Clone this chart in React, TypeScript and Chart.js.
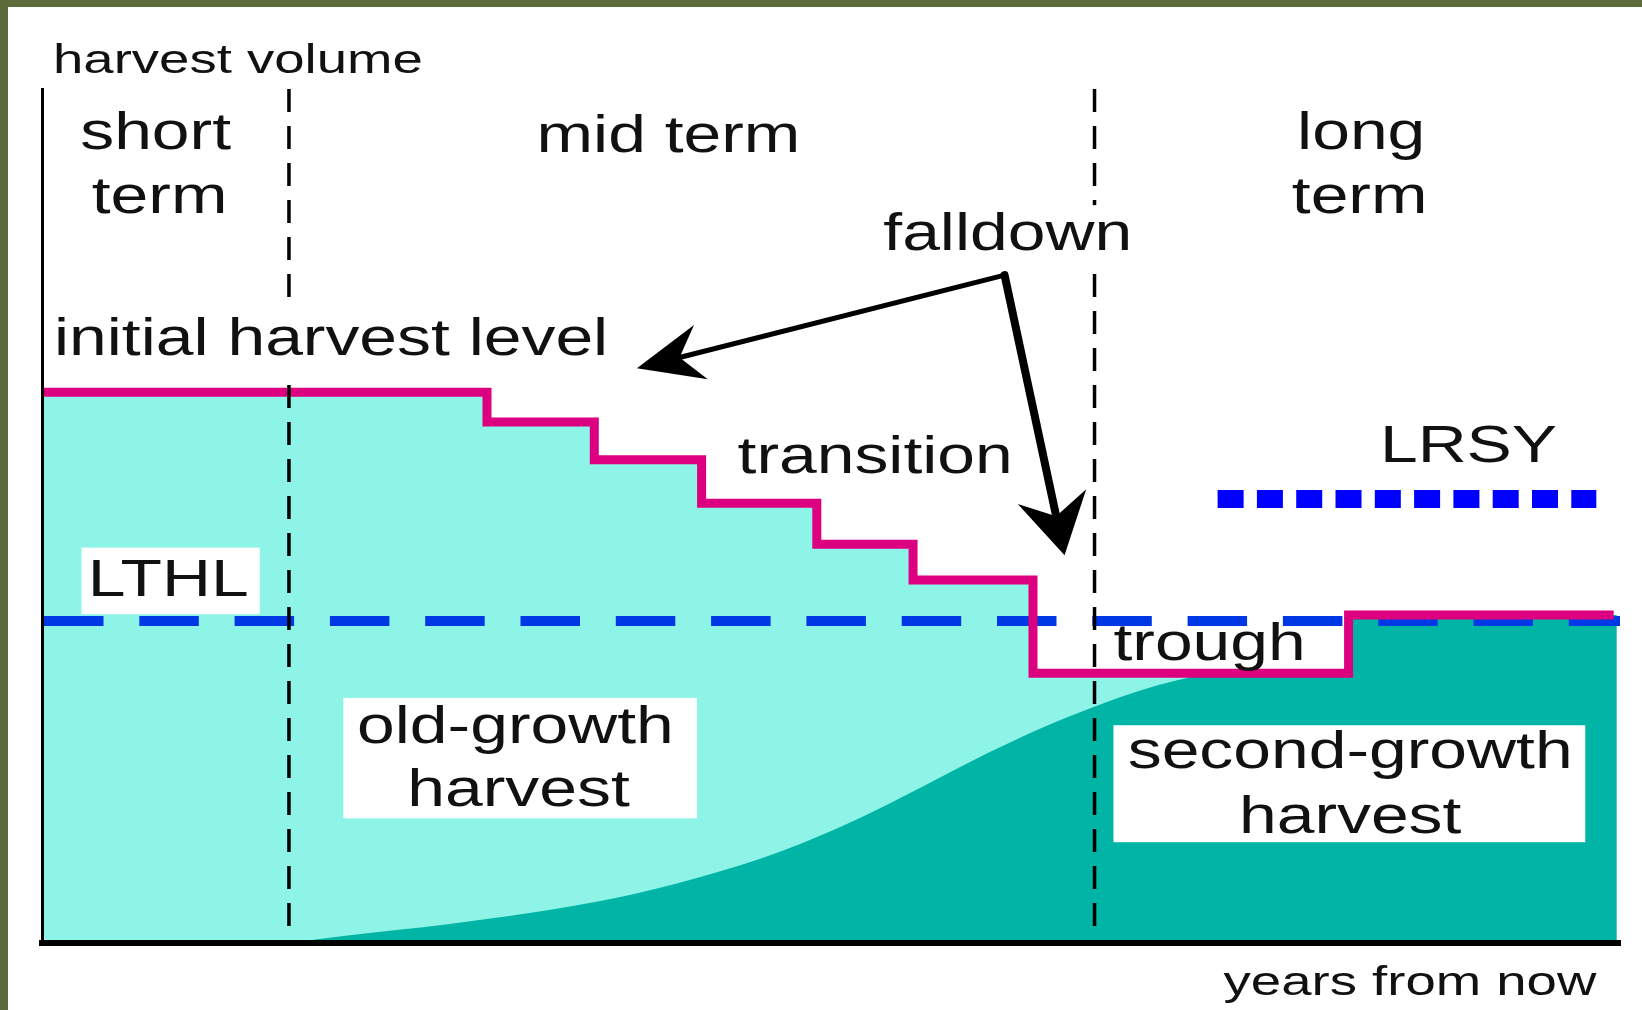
import React, { useEffect, useRef } from "react";
import { Chart, registerables } from "chart.js";

Chart.register(...registerables);

// ---- DATA (x: years from now, 0–100 ; y: harvest volume, 0–100) ----
const harvestStepX = [0, 28.2, 35.0, 41.8, 49.1, 55.2, 62.8, 82.8, 99.6];
const harvestStepY = [64.5, 61.0, 56.6, 51.5, 46.7, 42.5, 31.6, 38.4, 38.4];

const secondGrowthX = [15.65, 19.5, 25.7, 30.9, 36.2, 41.5, 46.8, 51.8, 56.0, 60.0, 63.5, 66.6, 69.5, 72.0, 74.5, 82.8, 82.85, 99.8];
const secondGrowthY = [0, 0.9, 2.2, 3.5, 5.2, 7.6, 10.7, 14.6, 18.5, 22.3, 25.3, 27.6, 29.5, 30.8, 31.6, 31.6, 38.4, 38.4];

const lthlX = [0, 100];
const lthlLevel = 37.7;
const lrsyX = [74.5, 98.5];
const lrsyLevel = 52.0;
const periodBoundaries = [15.65, 66.7];

// ---- ANNOTATIONS (in data units) ----
type Label = { text: string; x: number; y: number; align: CanvasTextAlign; size: number };
const labels: Label[] = [
  { text: "harvest volume", x: 0.7, y: 101.9, align: "left", size: 41 },
  { text: "short", x: 7.2, y: 93.0, align: "center", size: 51 },
  { text: "term", x: 7.45, y: 85.5, align: "center", size: 51 },
  { text: "mid term", x: 39.7, y: 92.6, align: "center", size: 51 },
  { text: "long", x: 83.6, y: 93.0, align: "center", size: 51 },
  { text: "term", x: 83.5, y: 85.5, align: "center", size: 51 },
  { text: "falldown", x: 61.2, y: 81.1, align: "center", size: 51 },
  { text: "initial harvest level", x: 0.76, y: 68.9, align: "left", size: 51 },
  { text: "transition", x: 52.8, y: 55.0, align: "center", size: 51 },
  { text: "LRSY", x: 90.4, y: 56.3, align: "center", size: 51 },
  { text: "LTHL", x: 8.0, y: 40.6, align: "center", size: 51 },
  { text: "trough", x: 67.9, y: 33.1, align: "left", size: 51 },
  { text: "old-growth", x: 30.0, y: 23.4, align: "center", size: 51 },
  { text: "harvest", x: 30.2, y: 16.0, align: "center", size: 51 },
  { text: "second-growth", x: 82.9, y: 20.5, align: "center", size: 51 },
  { text: "harvest", x: 82.9, y: 12.9, align: "center", size: 51 },
  { text: "years from now", x: 98.5, y: -6.1, align: "right", size: 41 },
];

type Box = { x0: number; x1: number; y0: number; y1: number };
const whiteBoxes: Box[] = [
  { x0: 0.5, x1: 36.6, y0: 74.6, y1: 65.8 },
  { x0: 52.8, x1: 69.6, y0: 86.4, y1: 79.2 },
  { x0: 2.5, x1: 13.8, y0: 46.3, y1: 38.5 },
  { x0: 19.1, x1: 41.5, y0: 28.7, y1: 14.6 },
  { x0: 67.9, x1: 97.8, y0: 25.5, y1: 11.8 },
];

const arrowApex = { x: 61.0, y: 78.2 };
const arrowTips = [
  { x: 37.7, y: 67.3, lw: 5, head: 66, half: 28, notch: 44 },
  { x: 64.8, y: 45.4, lw: 8, head: 60, half: 35, notch: 40 },
];

const TEXT_SX = 1.33;
const FONT = '"Liberation Sans", Arial, sans-serif';

const pts = (xs: number[], ys: number[]) => xs.map((x, i) => ({ x, y: ys[i] }));

const annotationPlugin = {
  id: "diagramAnnotations",
  beforeDraw(chart: any) {
    const ctx = chart.ctx as CanvasRenderingContext2D;
    ctx.save();
    ctx.fillStyle = "#ffffff";
    ctx.fillRect(0, 0, chart.width, chart.height);
    ctx.fillStyle = "#5d6a39";
    ctx.fillRect(0, 0, chart.width, 7);
    ctx.fillRect(0, 0, 8, chart.height);
    ctx.restore();
  },
  afterDraw(chart: any) {
    const ctx = chart.ctx as CanvasRenderingContext2D;
    const X = (v: number) => chart.scales.x.getPixelForValue(v);
    const Y = (v: number) => chart.scales.y.getPixelForValue(v);
    ctx.save();
    // white label boxes
    ctx.fillStyle = "#ffffff";
    for (const b of whiteBoxes) {
      const x0 = X(b.x0), x1 = X(b.x1), y0 = Y(b.y0), y1 = Y(b.y1);
      ctx.fillRect(Math.min(x0, x1), Math.min(y0, y1), Math.abs(x1 - x0), Math.abs(y1 - y0));
    }
    // texts
    ctx.fillStyle = "#111111";
    ctx.textBaseline = "alphabetic";
    for (const l of labels) {
      ctx.save();
      ctx.translate(X(l.x), Y(l.y));
      ctx.scale(TEXT_SX, 1);
      ctx.font = `${l.size}px ${FONT}`;
      ctx.textAlign = l.align;
      ctx.fillText(l.text, 0, 0);
      ctx.restore();
    }
    // arrows
    const ax = X(arrowApex.x), ay = Y(arrowApex.y);
    ctx.fillStyle = "#000000";
    ctx.strokeStyle = "#000000";
    ctx.lineCap = "round";
    for (const t of arrowTips) {
      const tx = X(t.x), ty = Y(t.y);
      const dx = tx - ax, dy = ty - ay;
      const L = Math.hypot(dx, dy);
      const ux = dx / L, uy = dy / L, px = -uy, py = ux;
      ctx.lineWidth = t.lw;
      ctx.beginPath();
      ctx.moveTo(ax, ay);
      ctx.lineTo(tx - ux * t.notch, ty - uy * t.notch);
      ctx.stroke();
      ctx.beginPath();
      ctx.moveTo(tx, ty);
      ctx.lineTo(tx - ux * t.head + px * t.half, ty - uy * t.head + py * t.half);
      ctx.lineTo(tx - ux * t.notch, ty - uy * t.notch);
      ctx.lineTo(tx - ux * t.head - px * t.half, ty - uy * t.head - py * t.half);
      ctx.closePath();
      ctx.fill();
    }
    ctx.restore();
  },
};

export default function App() {
  const ref = useRef<HTMLCanvasElement>(null);
  useEffect(() => {
    document.body.style.margin = "0";
    const canvas = ref.current!;
    const verticalSets = periodBoundaries.map((b) => ({
      label: "boundary",
      data: [{ x: b, y: 100 }, { x: b, y: 0 }],
      borderColor: "#000000",
      borderWidth: 3.5,
      borderDash: [23, 14],
      pointRadius: 0,
      fill: false,
      order: 0,
    }));
    const chart = new Chart(canvas, {
      type: "line",
      data: {
        datasets: [
          ...verticalSets,
          {
            label: "harvest level",
            data: pts(harvestStepX, harvestStepY),
            stepped: "before",
            borderColor: "#dc0080",
            borderWidth: 9,
            borderJoinStyle: "miter",
            borderCapStyle: "butt",
            pointRadius: 0,
            fill: false,
            order: 1,
          },
          {
            label: "LTHL",
            data: lthlX.map((x) => ({ x, y: lthlLevel })),
            borderColor: "#0038e6",
            borderWidth: 10,
            borderDash: [59.5, 35.8],
            borderDashOffset: -2,
            borderCapStyle: "butt",
            pointRadius: 0,
            fill: false,
            order: 2,
          },
          {
            label: "LRSY",
            data: lrsyX.map((x) => ({ x, y: lrsyLevel })),
            borderColor: "#0000ff",
            borderWidth: 18,
            borderDash: [26, 13.3],
            borderCapStyle: "butt",
            pointRadius: 0,
            fill: false,
            order: 2,
          },
          {
            label: "second-growth harvest",
            data: pts(secondGrowthX, secondGrowthY),
            cubicInterpolationMode: "monotone",
            borderWidth: 0,
            borderColor: "rgba(0,0,0,0)",
            backgroundColor: "#00b5a5",
            pointRadius: 0,
            fill: "origin",
            order: 3,
          },
          {
            label: "old-growth harvest",
            data: pts(harvestStepX, harvestStepY),
            stepped: "before",
            borderWidth: 0,
            borderColor: "rgba(0,0,0,0)",
            backgroundColor: "#8ef4e7",
            pointRadius: 0,
            fill: "origin",
            order: 4,
          },
        ] as any,
      },
      options: {
        responsive: false,
        animation: false,
        devicePixelRatio: 1,
        layout: { padding: { left: 42, right: 22, top: 89, bottom: 67 } },
        plugins: {
          legend: { display: false },
          tooltip: { enabled: false },
          title: { display: false },
        },
        scales: {
          x: {
            type: "linear",
            min: 0,
            max: 100,
            ticks: { display: false },
            grid: { display: false, drawTicks: false },
            border: { display: true, color: "#000000", width: 6, z: 1 },
          },
          y: {
            type: "linear",
            min: 0,
            max: 100,
            ticks: { display: false },
            grid: { display: false, drawTicks: false },
            border: { display: true, color: "#000000", width: 3, z: 1 },
          },
        },
      } as any,
      plugins: [annotationPlugin],
    });
    return () => chart.destroy();
  }, []);
  return (
    <div style={{ width: 1642, height: 1010, position: "relative" }}>
      <canvas ref={ref} width={1642} height={1010} style={{ display: "block", width: 1642, height: 1010 }} />
    </div>
  );
}
